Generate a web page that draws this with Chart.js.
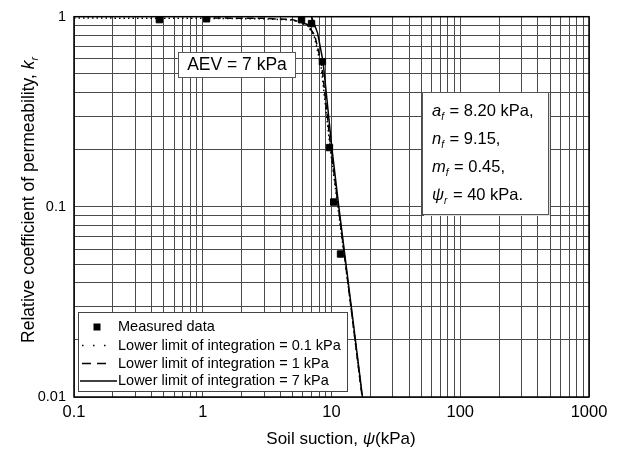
<!DOCTYPE html>
<html>
<head>
<meta charset="utf-8">
<script src="https://cdn.jsdelivr.net/npm/chart.js@4.4.1/dist/chart.umd.min.js"></script>
<style>
  html, body { margin: 0; padding: 0; background: #fff; }
  #wrap { width: 619px; height: 451px; }
</style>
</head>
<body>
<div id="wrap"><canvas id="krChart" width="619" height="451"></canvas></div>
<script>
(function() {
    'use strict';

    // ===================================
    // Data
    // ===================================

    // Measured data (suction kPa, kr)
    const measuredSuction = [0.46, 1.07, 5.85, 7.0, 8.5, 9.64, 10.4, 11.75];
    const measuredKr      = [0.965, 0.975, 0.965, 0.92, 0.58, 0.205, 0.106, 0.0565];

    // Lower limit of integration = 0.1 kPa (dotted)
    const limit01Suction = [0.1, 0.5, 1, 3, 5, 6.5, 7.3, 8.3, 9.8, 11.2, 14.0, 17.3];
    const limit01Kr      = [0.985, 0.98, 0.98, 0.975, 0.96, 0.9, 0.8, 0.55, 0.2, 0.1, 0.0316, 0.01];

    // Lower limit of integration = 1 kPa (dashed)
    const limit1Suction = [1, 3, 5, 6.5, 7.4, 8.4, 9.9, 11.3, 14.0, 17.3];
    const limit1Kr      = [0.985, 0.98, 0.965, 0.91, 0.8, 0.56, 0.2, 0.1, 0.0316, 0.01];

    // Lower limit of integration = 7 kPa (solid)
    const limit7Suction = [7, 7.8, 8.6, 10.1, 11.4, 14.1, 17.4];
    const limit7Kr      = [1, 0.82, 0.58, 0.2, 0.1, 0.0316, 0.01];

    const xMajorTicks = [0.1, 1, 10, 100, 1000];
    const xTickLabels = ['0.1', '1', '10', '100', '1000'];
    const yMajorTicks = [0.01, 0.1, 1];
    const yTickLabels = ['0.01', '0.1', '1'];

    const legendLabels = [
        'Measured data',
        'Lower limit of integration = 0.1 kPa',
        'Lower limit of integration = 1 kPa',
        'Lower limit of integration = 7 kPa'
    ];

    const FONT = '"Liberation Sans", Arial, sans-serif';

    // ===================================
    // Helpers
    // ===================================

    function toPoints(xs, ys) {
        return xs.map((x, i) => ({ x: x, y: ys[i] }));
    }

    // 1..9 per decade between the major ticks
    function gridValues(majors) {
        const out = [];
        for (let i = 0; i < majors.length - 1; i++) {
            for (let m = 1; m <= 9; m++) {
                out.push(parseFloat((m * majors[i]).toPrecision(6)));
            }
        }
        out.push(majors[majors.length - 1]);
        return out;
    }

    function majorLabel(value, majors, labels) {
        const i = majors.findIndex(v => Math.abs(v - value) / v < 1e-6);
        return i >= 0 ? labels[i] : '';
    }

    function drawRuns(ctx, x, y, runs) {
        let cx = x;
        runs.forEach(r => {
            ctx.font = r.font;
            ctx.fillText(r.text, cx, y + (r.dy || 0));
            cx += ctx.measureText(r.text).width + (r.kern || 0);
        });
        return cx - x;
    }

    function runsWidth(ctx, runs) {
        let w = 0;
        runs.forEach(r => {
            ctx.font = r.font;
            w += ctx.measureText(r.text).width + (r.kern || 0);
        });
        return w;
    }

    // ===================================
    // Overlay: border, boxes, legend, titles
    // ===================================
    const overlayPlugin = {
        id: 'overlay',
        afterDraw(chart) {
            const ctx = chart.ctx;
            const a = chart.chartArea;
            ctx.save();

            // plot frame
            ctx.strokeStyle = '#000';
            ctx.lineWidth = 1.5;
            ctx.strokeRect(a.left, a.top, a.right - a.left, a.bottom - a.top);

            ctx.fillStyle = '#000';
            ctx.textBaseline = 'alphabetic';
            ctx.textAlign = 'left';

            // AEV box
            ctx.fillStyle = '#fff';
            ctx.fillRect(178, 52, 117, 25);
            ctx.strokeStyle = '#555';
            ctx.lineWidth = 1;
            ctx.strokeRect(178.5, 52.5, 117, 25);
            ctx.fillStyle = '#000';
            ctx.font = '17.5px ' + FONT;
            ctx.textAlign = 'center';
            ctx.textBaseline = 'middle';
            ctx.fillText('AEV = 7 kPa', 237, 65.5);

            // parameter box
            ctx.fillStyle = '#ddd';
            ctx.fillRect(424, 94, 126, 122);
            ctx.fillStyle = '#fff';
            ctx.fillRect(422, 92, 126, 122);
            ctx.strokeStyle = '#555';
            ctx.strokeRect(422.5, 92.5, 126, 122);
            ctx.fillStyle = '#000';
            ctx.textAlign = 'left';
            ctx.textBaseline = 'alphabetic';
            const it = 'italic 16.5px ' + FONT;
            const rg = '16.5px ' + FONT;
            const sb = 'italic 10px ' + FONT;
            drawRuns(ctx, 432, 116, [{ text: 'a', font: it }, { text: 'f', font: sb, dy: 4, kern: 1 }, { text: ' = 8.20 kPa,', font: rg }]);
            drawRuns(ctx, 432, 144, [{ text: 'n', font: it }, { text: 'f', font: sb, dy: 4, kern: 1 }, { text: ' = 9.15,', font: rg }]);
            drawRuns(ctx, 432, 172, [{ text: 'm', font: it }, { text: 'f', font: sb, dy: 4, kern: 1 }, { text: ' = 0.45,', font: rg }]);
            drawRuns(ctx, 432, 200, [{ text: '\u03C8', font: it }, { text: 'r', font: sb, dy: 4, kern: 1 }, { text: ' = 40 kPa.', font: rg }]);

            // legend
            ctx.fillStyle = '#fff';
            ctx.fillRect(78, 312, 269, 79);
            ctx.strokeStyle = '#444';
            ctx.strokeRect(78.5, 312.5, 269, 79);
            ctx.fillStyle = '#000';
            ctx.font = '14.5px ' + FONT;
            ctx.textBaseline = 'middle';
            const rows = [327, 345.5, 363.5, 381];
            legendLabels.forEach((lab, i) => ctx.fillText(lab, 118, rows[i]));
            // symbols
            ctx.fillRect(93.5, rows[0] - 3.5, 7, 7);
            ctx.strokeStyle = '#000';
            ctx.lineWidth = 1.5;
            ctx.setLineDash([1.5, 9.5]);
            ctx.beginPath(); ctx.moveTo(82, rows[1]); ctx.lineTo(112, rows[1]); ctx.stroke();
            ctx.setLineDash([9, 6]);
            ctx.beginPath(); ctx.moveTo(82, rows[2]); ctx.lineTo(112, rows[2]); ctx.stroke();
            ctx.setLineDash([]);
            ctx.beginPath(); ctx.moveTo(80, rows[3]); ctx.lineTo(117, rows[3]); ctx.stroke();

            // x title
            ctx.textBaseline = 'alphabetic';
            const xRuns = [
                { text: 'Soil suction, ', font: '17px ' + FONT },
                { text: '\u03C8', font: 'italic 17px ' + FONT },
                { text: '(kPa)', font: '17px ' + FONT }
            ];
            const xw = runsWidth(ctx, xRuns);
            drawRuns(ctx, 341 - xw / 2, 444, xRuns);

            // y title
            const yRuns = [
                { text: 'Relative coefficient of permeability, ', font: '17.5px ' + FONT },
                { text: 'k', font: 'italic 17.5px ' + FONT },
                { text: 'r', font: 'italic 10.5px ' + FONT, dy: 4 }
            ];
            const yw = runsWidth(ctx, yRuns);
            ctx.translate(34, 200);
            ctx.rotate(-Math.PI / 2);
            drawRuns(ctx, -yw / 2, 0, yRuns);

            ctx.restore();
        }
    };

    // ===================================
    // Chart
    // ===================================
    const canvas = document.getElementById('krChart');
    const xGrid = gridValues(xMajorTicks);
    const yGrid = gridValues(yMajorTicks);

    new Chart(canvas, {
        type: 'scatter',
        data: {
            datasets: [
                {
                    label: legendLabels[0],
                    data: toPoints(measuredSuction, measuredKr),
                    pointStyle: 'rect',
                    pointRadius: 4.5,
                    backgroundColor: '#000',
                    borderColor: '#000',
                    showLine: false
                },
                {
                    label: legendLabels[1],
                    data: toPoints(limit01Suction, limit01Kr),
                    showLine: true,
                    pointRadius: 0,
                    borderColor: '#000',
                    borderWidth: 1.5,
                    borderDash: [1.5, 3]
                },
                {
                    label: legendLabels[2],
                    data: toPoints(limit1Suction, limit1Kr),
                    showLine: true,
                    pointRadius: 0,
                    borderColor: '#000',
                    borderWidth: 1.5,
                    borderDash: [7, 4]
                },
                {
                    label: legendLabels[3],
                    data: toPoints(limit7Suction, limit7Kr),
                    showLine: true,
                    pointRadius: 0,
                    borderColor: '#000',
                    borderWidth: 1.5
                }
            ]
        },
        options: {
            responsive: false,
            animation: false,
            layout: { padding: { left: 0, top: 14, right: 30, bottom: 0 } },
            plugins: {
                legend: { display: false },
                tooltip: { enabled: false }
            },
            scales: {
                x: {
                    type: 'logarithmic',
                    min: 0.1,
                    max: 1000,
                    afterBuildTicks: function(scale) {
                        scale.ticks = xGrid.map(v => ({ value: v }));
                    },
                    afterFit: function(scale) { scale.height = 54; },
                    grid: { color: '#4a4a4a', lineWidth: 1, drawTicks: false },
                    border: { display: false },
                    ticks: {
                        autoSkip: false,
                        maxRotation: 0,
                        padding: 6,
                        color: '#000',
                        font: { family: FONT, size: 16.5 },
                        callback: function(value) {
                            return majorLabel(value, xMajorTicks, xTickLabels);
                        }
                    }
                },
                y: {
                    type: 'logarithmic',
                    min: 0.01,
                    max: 1,
                    afterBuildTicks: function(scale) {
                        scale.ticks = yGrid.map(v => ({ value: v }));
                    },
                    afterFit: function(scale) { scale.width = 74; },
                    grid: { color: '#4a4a4a', lineWidth: 1, drawTicks: false },
                    border: { display: false },
                    ticks: {
                        autoSkip: false,
                        padding: 8,
                        color: '#000',
                        font: { family: FONT, size: 14.5 },
                        callback: function(value) {
                            return majorLabel(value, yMajorTicks, yTickLabels);
                        }
                    }
                }
            }
        },
        plugins: [overlayPlugin]
    });

})();
</script>
</body>
</html>
